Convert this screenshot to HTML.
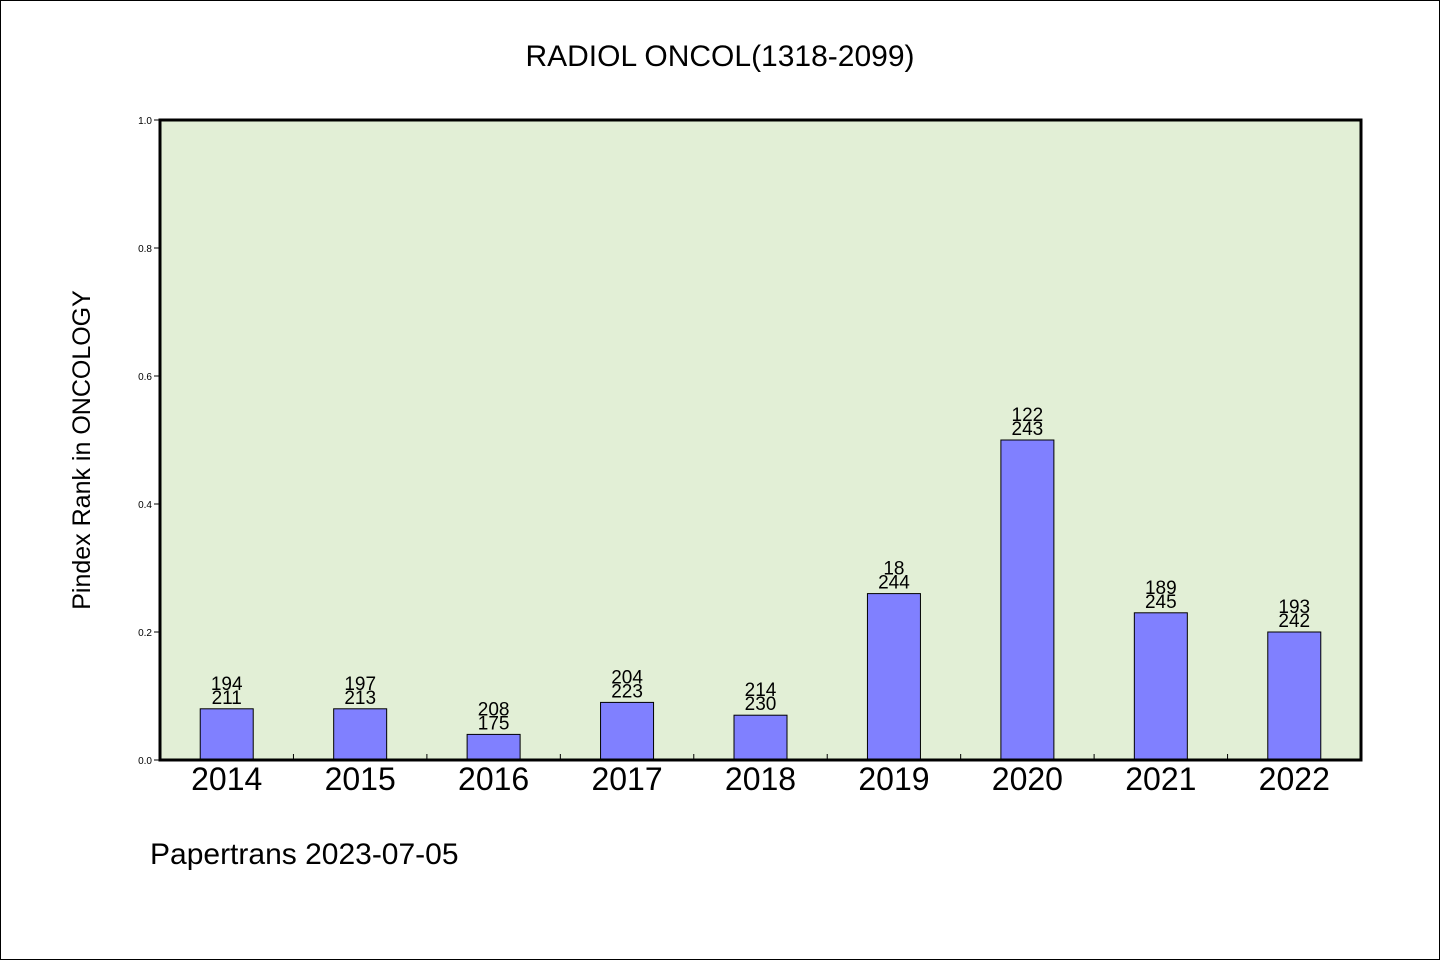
<!DOCTYPE html>
<html><head><meta charset="utf-8"><style>
html,body{margin:0;padding:0;background:#fff}
svg{display:block}
text{font-family:"WenQuanYi Zen Hei","Liberation Sans",sans-serif;fill:#000}
</style></head><body>
<svg id="chart" width="1440" height="960">
<rect x="0.5" y="0.5" width="1439" height="959" fill="#fff" stroke="#000"/>
<text x="720" y="66" font-size="30" text-anchor="middle">RADIOL ONCOL(1318-2099)</text>
<rect x="160" y="120" width="1201" height="640" fill="#e2efd6"/>
<g id="bars"></g>
<g id="yaxis"></g>
<g id="xaxis"></g>
<rect x="160" y="120" width="1201" height="640" fill="none" stroke="#000" stroke-width="3"/>
<text transform="translate(90,450) rotate(-90)" font-size="25" text-anchor="middle">Pindex Rank in ONCOLOGY</text>
<text x="150" y="864" font-size="30">Papertrans 2023-07-05</text>
</svg>
<script>
const categories=["2014","2015","2016","2017","2018","2019","2020","2021","2022"];
const values=[0.08,0.08,0.04,0.09,0.07,0.26,0.5,0.23,0.2];
const topLabels=["194","197","208","204","214","18","122","189","193"];
const bottomLabels=["211","213","175","223","230","244","243","245","242"];
const yTicks=["0.0","0.2","0.4","0.6","0.8","1.0"];
const NS="http://www.w3.org/2000/svg";
const X0=160,X1=1361,Y0=760,Y1=120;
const band=(X1-X0)/categories.length;
function xs(i){return X0+band*(i+0.5);}
function ys(v){return Y0-(v/1)*(Y0-Y1);}
function mk(tag,attrs,parent){const e=document.createElementNS(NS,tag);for(const k in attrs)e.setAttribute(k,attrs[k]);parent.appendChild(e);return e;}
const bars=document.getElementById('bars'),ya=document.getElementById('yaxis'),xa=document.getElementById('xaxis');
const bw=53;
categories.forEach((c,i)=>{
  const cx=xs(i),top=ys(values[i]);
  const r=mk('rect',{x:cx-bw/2,y:top,width:bw,height:Y0-top,fill:'#8080ff',stroke:'#000','stroke-width':1},bars);
  
  
  const t1=mk('text',{x:cx,y:top-19,'font-size':19,'text-anchor':'middle'},bars);t1.textContent=topLabels[i];
  
  
  const t2=mk('text',{x:cx,y:top-5,'font-size':19,'text-anchor':'middle'},bars);t2.textContent=bottomLabels[i];
  
  
  const xl=mk('text',{x:cx,y:790,'font-size':32,'text-anchor':'middle'},xa);xl.textContent=c;
  
  
  if(i>0){const tk=mk('line',{x1:X0+band*i,x2:X0+band*i,y1:Y0,y2:Y0-6,stroke:'#000'},xa);
  
  }
});
yTicks.forEach(t=>{
  const y=ys(parseFloat(t));
  const l=mk('line',{x1:X0-6,x2:X0,y1:y,y2:y,stroke:'#000'},ya);
  
  
  const tx=mk('text',{x:X0-8,y:y+4,'font-size':10,'text-anchor':'end'},ya);tx.textContent=t;
  
  
});
</script>
</body></html>
